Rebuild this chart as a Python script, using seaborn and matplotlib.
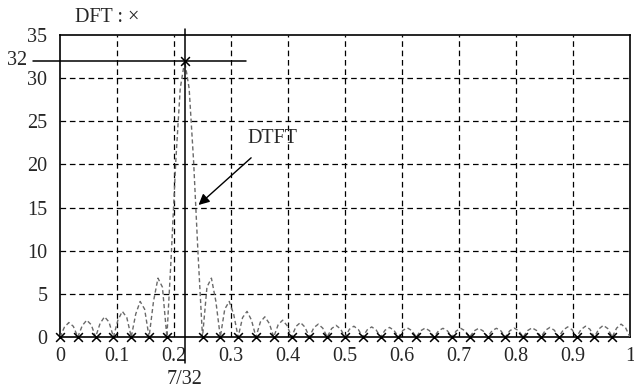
import matplotlib
matplotlib.use("Agg")
import matplotlib.pyplot as plt
import seaborn as sns
import numpy as np
import pandas as pd

# ---- data ----
# DTFT magnitude, sampled every 1/128 in normalized frequency (0 .. 1)
dtft_step = 1 / 128
dtft_mag = [
    0, 1.15, 1.68, 1.23, 0, 1.32, 1.95, 1.43, 0, 1.57, 2.34, 1.74,
    0, 1.96, 2.97, 2.25, 0, 2.65, 4.12, 3.23, 0, 4.14, 6.82, 5.78,
    0, 9.61, 20.38, 28.81, 32, 28.81, 20.38, 9.61, 0, 5.78, 6.82, 4.14,
    0, 3.23, 4.12, 2.65, 0, 2.25, 2.97, 1.96, 0, 1.74, 2.34, 1.57,
    0, 1.43, 1.95, 1.32, 0, 1.23, 1.68, 1.15, 0, 1.08, 1.49, 1.03,
    0, 0.98, 1.35, 0.93, 0, 0.90, 1.25, 0.86, 0, 0.84, 1.17, 0.81,
    0, 0.79, 1.11, 0.77, 0, 0.76, 1.06, 0.74, 0, 0.73, 1.03, 0.72,
    0, 0.72, 1.01, 0.71, 0, 0.71, 1.00, 0.71, 0, 0.71, 1.00, 0.71,
    0, 0.71, 1.01, 0.72, 0, 0.72, 1.03, 0.73, 0, 0.74, 1.06, 0.76,
    0, 0.77, 1.11, 0.79, 0, 0.81, 1.17, 0.84, 0, 0.86, 1.25, 0.90,
    0, 0.93, 1.35, 0.98, 0, 1.03, 1.49, 1.08, 0,
]
dtft_freq = [i * dtft_step for i in range(len(dtft_mag))]

# 32-point DFT (bins k/32)
dft_freq = [k / 32 for k in range(32)]
dft_mag = [0] * 7 + [32] + [0] * 24

peak_freq = 7 / 32
peak_val = 32

x_ticks = [0, 0.1, 0.2, 0.3, 0.4, 0.5, 0.6, 0.7, 0.8, 0.9, 1]
x_ticklabels = ["0", "0.1", "0.2", "0.3", "0.4", "0.5", "0.6", "0.7", "0.8", "0.9", "1"]
y_ticks = [0, 5, 10, 15, 20, 25, 30, 35]

df_dtft = pd.DataFrame({"f": dtft_freq, "mag": dtft_mag})
df_dft = pd.DataFrame({"f": dft_freq, "mag": dft_mag})

# ---- styling ----
sns.set_style("white")
plt.rcParams["font.family"] = ["Liberation Serif", "DejaVu Serif"]

FS = 14.5

fig = plt.figure(figsize=(6.34, 3.89), dpi=100)
ax = fig.add_axes([60 / 634, 52 / 389, 570 / 634, 302 / 389])

# grid
for xt in x_ticks[1:-1]:
    ax.axvline(xt, color="black", lw=0.9, ls=(0, (4.5, 3)), zorder=1)
for yt in y_ticks[1:-1]:
    ax.axhline(yt, color="black", lw=0.9, ls=(0, (4.5, 3)), zorder=1)

sns.lineplot(data=df_dtft, x="f", y="mag", ax=ax, color="#6a6a6a",
             lw=1.0, linestyle=(0, (3, 2)), zorder=3)
sns.scatterplot(data=df_dft, x="f", y="mag", ax=ax, marker="x", s=40,
                color="black", linewidth=1.1, zorder=4, clip_on=False)

ax.set_xlim(0, 1)
ax.set_ylim(0, 35)
ax.set_xticks(x_ticks)
ax.set_xticklabels(x_ticklabels)
ax.set_yticks(y_ticks)
ax.tick_params(axis="y", length=0, labelsize=FS, pad=9)
ax.tick_params(axis="x", length=0, labelsize=FS, pad=7)
ax.set_xlabel("")
ax.set_ylabel("")
for sp in ax.spines.values():
    sp.set_visible(True)
    sp.set_color("black")
    sp.set_linewidth(1.2)

# peak markers lines
ax.plot([peak_freq, peak_freq], [-3.0, 35.7], color="black", lw=1.1,
        clip_on=False, zorder=5)
ax.plot([-0.0475, 0.326], [peak_val, peak_val], color="black", lw=1.1,
        clip_on=False, zorder=5)

ax.text(-0.057, peak_val, "32", ha="right", va="center", fontsize=FS)
ax.text(peak_freq, -4.9, "7/32", ha="center", va="center", fontsize=FS)
ax.text(0.027, 37.0, "DFT : \u00d7", ha="left", va="center", fontsize=FS)

ax.annotate("DTFT", xy=(0.243, 15.3), xytext=(0.373, 23.0),
            ha="center", va="center", fontsize=FS,
            arrowprops=dict(arrowstyle="-|>", color="black", lw=1.0,
                            shrinkA=7, shrinkB=0, mutation_scale=16))

fig.savefig("out.png", dpi=100)
